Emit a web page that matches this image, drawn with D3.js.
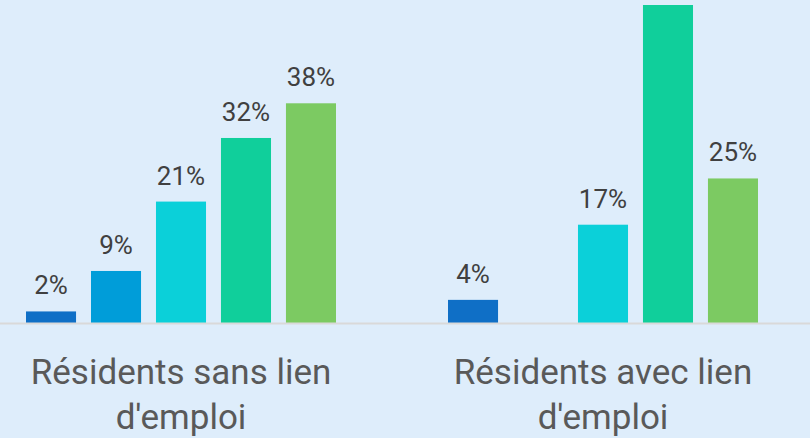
<!DOCTYPE html>
<html>
<head>
<meta charset="utf-8">
<script src="https://cdn.jsdelivr.net/npm/d3@7"></script>
<style>
  body { margin: 0; background: #deedfb; }
  svg { display: block; }
</style>
</head>
<body>
<svg id="chart" width="810" height="438"></svg>
<script>
// categories and series
var categories = ["Résidents sans lien d'emploi", "Résidents avec lien d'emploi"];
var series = ["s1", "s2", "s3", "s4", "s5"];
var colors = ["#0f6fc6", "#009dd9", "#0bd0d9", "#10cf9b", "#7cca62"];

// values in %, one array per series (null = no bar)
var s1 = [2, 4];
var s2 = [9, null];
var s3 = [21, 17];
var s4 = [32, 55];
var s5 = [38, 25];
var values = [s1, s2, s3, s4, s5];

var svg = d3.select("#chart");
var W = 810, H = 438;

var x0 = d3.scaleBand().domain(categories).range([-30, 814]);
var x1 = d3.scaleBand().domain(series).range([56, 366]).paddingInner(0.23);
var y = d3.scaleLinear().domain([0, 55]).range([323, 5]);

var rows = [];
categories.forEach(function (c, i) {
	series.forEach(function (s, j) {
		if (values[j][i] != null) rows.push({ cat: c, ser: s, v: values[j][i], col: colors[j] });
	});
});

var g = svg.append("g");

g.selectAll("rect.bar")
	.data(rows)
	.enter()
	.append("rect")
		.attr("class", "bar")
		.attr("x", function (d) { return x0(d.cat) + x1(d.ser); })
		.attr("y", function (d) { return y(d.v); })
		.attr("width", x1.bandwidth())
		.attr("height", function (d) { return y(0) - y(d.v); })
		.attr("fill", function (d) { return d.col; });

// labels that would sit above the top edge are not in the picture
g.selectAll("text.val")
	.data(rows.filter(function (d) { return y(d.v) - 17 > 25; }))
	.enter()
	.append("text")
		.attr("class", "val")
		.attr("x", function (d) { return x0(d.cat) + x1(d.ser) + x1.bandwidth() / 2; })
		.attr("y", function (d) { return y(d.v) - 17; })
		.attr("text-anchor", "middle")
		.attr("font-family", "Roboto, sans-serif")
		.attr("font-size", 26)
		.attr("fill", "#404040")
		.text(function (d) { return d.v + "%"; });

// baseline
svg.append("line")
	.attr("x1", 0).attr("x2", W)
	.attr("y1", y(0) + 0.5).attr("y2", y(0) + 0.5)
	.attr("stroke", "#d9d9d9")
	.attr("stroke-width", 2);

// category labels, wrapped in two lines
var lines = [["Résidents sans lien", "d'emploi"], ["Résidents avec lien", "d'emploi"]];
categories.forEach(function (c, i) {
	var t = svg.append("text")
		.attr("x", x0(c) + x0.bandwidth() / 2)
		.attr("y", 384)
		.attr("text-anchor", "middle")
		.attr("font-family", "Roboto, sans-serif")
		.attr("font-size", 35)
		.attr("fill", "#595959");
	lines[i].forEach(function (l, k) {
		t.append("tspan")
			.attr("x", x0(c) + x0.bandwidth() / 2)
			.attr("dy", k ? 45 : 0)
			.text(l);
	});
});
</script>
</body>
</html>
